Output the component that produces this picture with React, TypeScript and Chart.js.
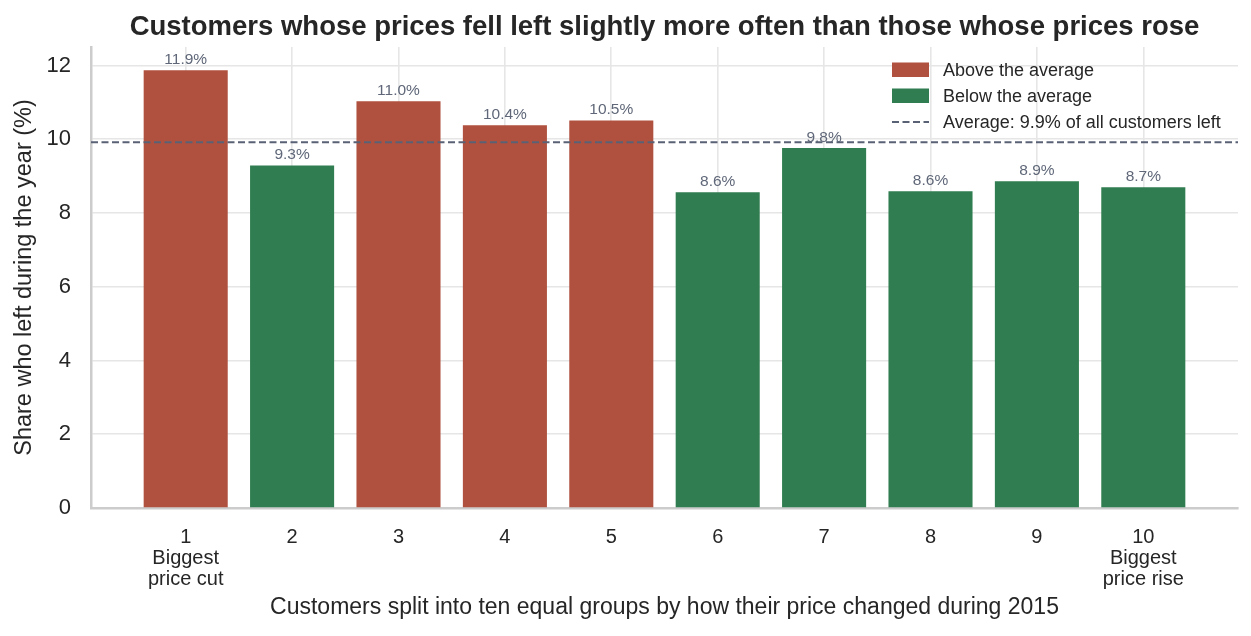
import { useEffect, useRef } from "react";
import { Chart, registerables } from "chart.js";

Chart.register(...registerables);

// ---- data ----
const groupIndex = [0, 1, 2, 3, 4, 5, 6, 7, 8, 9];
const xTickLabels: (string | string[])[] = [
  ["1", "Biggest", "price cut"],
  "2",
  "3",
  "4",
  "5",
  "6",
  "7",
  "8",
  "9",
  ["10", "Biggest", "price rise"],
];
const churnRates = [11.87, 9.29, 11.03, 10.38, 10.51, 8.56, 9.76, 8.59, 8.86, 8.7];
const averageRate = 9.92;
const yTicks = [0, 2, 4, 6, 8, 10, 12];
const xLimits = [-0.89, 9.89];
const yLimits = [0, 12.5];

const titleText = "Customers whose prices fell left slightly more often than those whose prices rose";
const xAxisTitle = "Customers split into ten equal groups by how their price changed during 2015";
const yAxisTitle = "Share who left during the year (%)";
const legendLabels = [
  "Above the average",
  "Below the average",
  `Average: ${averageRate.toFixed(1)}% of all customers left`,
];

// ---- styles ----
const RED = "#b0503e";
const GREEN = "#2f7d50";
const AVG_COLOR = "#596275";
const TEXT = "#262626";
const LABEL_GRAY = "#5f6778";
const FONT = "'Liberation Sans', Arial, Helvetica, sans-serif";

const overlayPlugin = {
  id: "overlay",
  afterDatasetsDraw(chart: any) {
    const { ctx, chartArea } = chart;
    const xs = chart.scales.x;
    const ys = chart.scales.y;
    ctx.save();
    // value labels
    ctx.font = `15.5px ${FONT}`;
    ctx.fillStyle = LABEL_GRAY;
    ctx.textAlign = "center";
    ctx.textBaseline = "alphabetic";
    churnRates.forEach((v, i) => {
      const px = xs.getPixelForValue(groupIndex[i]);
      const py = ys.getPixelForValue(v);
      ctx.fillText(`${v.toFixed(1)}%`, px, py - 6);
    });
    // title
    ctx.font = `bold 27.5px ${FONT}`;
    ctx.fillStyle = TEXT;
    ctx.fillText(titleText, (chartArea.left + chartArea.right) / 2, 27);
    // legend
    const boxL = chartArea.right - 346;
    const boxW = 37;
    const textX = chartArea.right - 295;
    ctx.textAlign = "left";
    ctx.font = `18px ${FONT}`;
    const colors = [RED, GREEN];
    for (let i = 0; i < 3; i++) {
      const base = chartArea.top + 29 + 26 * i;
      if (i < 2) {
        ctx.fillStyle = colors[i];
        ctx.fillRect(boxL, base - 13.5, boxW, 14.5);
      } else {
        ctx.strokeStyle = AVG_COLOR;
        ctx.lineWidth = 2;
        ctx.setLineDash([7, 3.5]);
        ctx.beginPath();
        ctx.moveTo(boxL, base - 6);
        ctx.lineTo(boxL + boxW, base - 6);
        ctx.stroke();
        ctx.setLineDash([]);
      }
      ctx.fillStyle = TEXT;
      ctx.fillText(legendLabels[i], textX, base);
    }
    ctx.restore();
  },
};

export default function App() {
  const canvasRef = useRef<HTMLCanvasElement | null>(null);

  useEffect(() => {
    if (!canvasRef.current) return;
    const chart = new Chart(canvasRef.current, {
      type: "bar",
      data: {
        datasets: [
          {
            type: "line",
            label: legendLabels[2],
            data: [
              { x: xLimits[0], y: averageRate },
              { x: xLimits[1], y: averageRate },
            ],
            borderColor: AVG_COLOR,
            borderWidth: 2,
            borderDash: [7, 3.5],
            pointRadius: 0,
            fill: false,
            order: 0,
          } as any,
          {
            type: "bar",
            label: "Share who left",
            data: churnRates.map((v, i) => ({ x: groupIndex[i], y: v })),
            backgroundColor: churnRates.map((v) => (v > averageRate ? RED : GREEN)),
            barPercentage: 0.79,
            categoryPercentage: 1,
            order: 1,
          } as any,
        ],
      },
      options: {
        animation: false,
        responsive: true,
        maintainAspectRatio: false,
        layout: { padding: { top: 39, right: 5, left: 0, bottom: 0 } },
        plugins: {
          legend: { display: false },
          tooltip: { enabled: false },
          title: { display: false },
        },
        scales: {
          x: {
            type: "linear",
            offset: false,
            min: xLimits[0],
            max: xLimits[1],
            afterBuildTicks: (scale: any) => {
              scale.ticks = groupIndex.map((v) => ({ value: v }));
            },
            afterFit: (scale: any) => {
              scale.height = 120;
            },
            ticks: {
              autoSkip: false,
              maxRotation: 0,
              padding: 19,
              color: TEXT,
              font: { family: FONT, size: 20, lineHeight: 1.05 },
              callback: (value: any) => xTickLabels[Number(value)] as any,
            },
            grid: { color: "#e6e6e6", lineWidth: 1.6, drawTicks: false, offset: false },
            border: { color: "#cccccc", width: 2.5 },
            title: {
              display: true,
              text: xAxisTitle,
              color: TEXT,
              font: { family: FONT, size: 23, lineHeight: 1.2 },
              padding: { top: 0, bottom: 7 },
            },
          },
          y: {
            type: "linear",
            min: yLimits[0],
            max: yLimits[1],
            afterBuildTicks: (scale: any) => {
              scale.ticks = yTicks.map((v) => ({ value: v }));
            },
            afterFit: (scale: any) => {
              scale.width = 83;
            },
            ticks: {
              padding: 20,
              color: TEXT,
              font: { family: FONT, size: 22 },
              callback: (value: any) => String(value),
            },
            grid: { color: "#e6e6e6", lineWidth: 1.6, drawTicks: false },
            border: { color: "#cccccc", width: 2.5 },
            title: {
              display: true,
              text: yAxisTitle,
              color: TEXT,
              font: { family: FONT, size: 23.5, lineHeight: 1.2 },
              padding: { top: 2, bottom: 0 },
            },
          },
        },
      },
      plugins: [overlayPlugin],
    });
    return () => chart.destroy();
  }, []);

  return (
    <div style={{ width: "100%", height: "620px", position: "relative" }}>
      <canvas ref={canvasRef} />
    </div>
  );
}
